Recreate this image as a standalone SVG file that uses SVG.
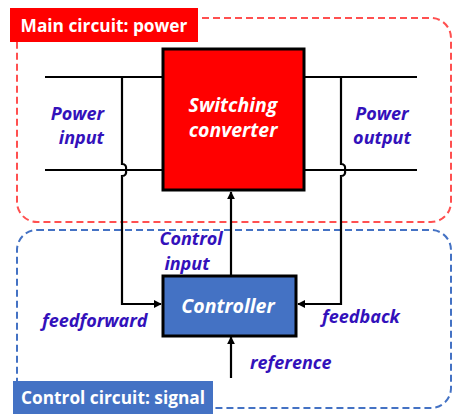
<svg xmlns="http://www.w3.org/2000/svg" width="464" height="420" viewBox="0 0 464 420">
<defs>
<marker id="ah" viewBox="0 0 10 10" refX="9" refY="5" markerWidth="8" markerHeight="8" markerUnits="userSpaceOnUse" orient="auto">
<path d="M0,0 L10,5 L0,10 z" fill="#000"/>
</marker>
<style>
.lbl{font-family:"Open Sans","Liberation Sans",sans-serif;font-weight:bold;font-style:italic;fill:#3311BB;font-size:18px}
.wt{font-family:"Open Sans","Liberation Sans",sans-serif;font-weight:bold;fill:#fff;font-size:17.3px}
.wti{font-family:"Open Sans","Liberation Sans",sans-serif;font-weight:bold;font-style:italic;fill:#fff;font-size:19.5px}
.wire{fill:none;stroke:#000;stroke-width:2.2}
</style>
</defs>
<rect width="464" height="420" fill="#fff"/>
<g id="main-circuit">
<rect x="17" y="18" width="434" height="204" rx="20" fill="none" stroke="#FF5050" stroke-width="2" stroke-dasharray="7,4"/>
<rect x="10" y="8" width="188" height="34" fill="#FF0000"/>
<text class="wt" x="104" y="31.5" text-anchor="middle">Main circuit: power</text>
</g>
<g id="control-circuit">
<rect x="17" y="230" width="434" height="178" rx="20" fill="none" stroke="#4472C4" stroke-width="2" stroke-dasharray="7,4"/>
<rect x="13" y="381" width="200" height="33" fill="#4472C4"/>
<text class="wt" x="113" y="403.5" text-anchor="middle">Control circuit: signal</text>
</g>
<g id="connectors">
<line class="wire" x1="45" y1="77" x2="163" y2="77"/>
<line class="wire" x1="45" y1="170" x2="163" y2="170"/>
<line class="wire" x1="304" y1="77" x2="417" y2="77"/>
<line class="wire" x1="304" y1="170" x2="417" y2="170"/>
<path class="wire" d="M122,77 V164 Q127,164 126,170 Q127,176 122,176 V304 H161" marker-end="url(#ah)"/>
<path class="wire" d="M341,77 V164 Q346,164 345,170 Q346,176 341,176 V304 H298" marker-end="url(#ah)"/>
<line class="wire" x1="231" y1="276" x2="231" y2="192" marker-end="url(#ah)"/>
<line class="wire" x1="231" y1="378" x2="231" y2="337" marker-end="url(#ah)"/>
</g>
<g id="converter">
<rect x="163" y="49" width="141" height="141" fill="#FF0000" stroke="#000" stroke-width="3"/>
<text class="wti" x="233" y="112" text-anchor="middle">Switching</text>
<text class="wti" x="233" y="137" text-anchor="middle">converter</text>
</g>
<g id="controller">
<rect x="163" y="276" width="133" height="60" fill="#4472C4" stroke="#000" stroke-width="3"/>
<text class="wti" x="228" y="313" text-anchor="middle">Controller</text>
</g>
<g id="labels">
<text class="lbl" x="104" y="120" text-anchor="end">Power</text>
<text class="lbl" x="104" y="144" text-anchor="end">input</text>
<text class="lbl" x="382" y="120" text-anchor="middle">Power</text>
<text class="lbl" x="382" y="144" text-anchor="middle">output</text>
<text class="lbl" x="191" y="245" text-anchor="middle">Control</text>
<text class="lbl" x="187" y="270" text-anchor="middle">input</text>
<text class="lbl" x="42" y="327">feedforward</text>
<text class="lbl" x="322" y="323">feedback</text>
<text class="lbl" x="250" y="369">reference</text>
</g>
</svg>
